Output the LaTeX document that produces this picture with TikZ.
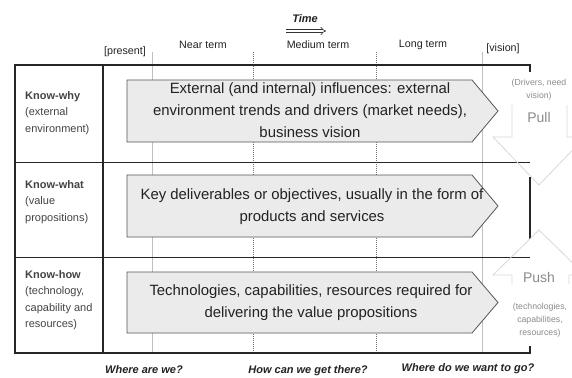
\documentclass[tikz,border=0pt]{standalone}
\usepackage{fontspec}
\setmainfont{Liberation Sans}
\usetikzlibrary{arrows.meta}
\definecolor{boxfill}{HTML}{EBEBEB}
\definecolor{boxline}{HTML}{555555}
\definecolor{ghost}{HTML}{D8D8D8}
\definecolor{ghosttext}{HTML}{8A8A8A}
\definecolor{txt}{HTML}{222222}
\begin{document}
\begin{tikzpicture}[x=1pt,y=-1pt,
  bigtext/.style={font=\fontsize{14.9}{22}\selectfont, text=txt, align=center, inner sep=0pt},
  rowlabel/.style={font=\fontsize{11}{16.5}\selectfont, text=txt!85, align=left, anchor=west, inner sep=0pt},
  toplabel/.style={font=\fontsize{10.7}{12}\selectfont, text=txt, inner sep=0pt},
  question/.style={font=\bfseries\itshape\fontsize{11}{12}\selectfont, text=txt, inner sep=0pt},
  ghostlabel/.style={text=ghosttext, align=center, inner sep=0pt},
  bigarrow/.style={draw=boxline, fill=boxfill, line width=0.8pt},
  frame/.style={line width=2.4pt, black!85},
  sep/.style={line width=0.8pt, black!85},
  vsolid/.style={line width=0.6pt, black!25},
  vdash/.style={line width=0.5pt, black!55, dash pattern=on 1pt off 1pt},
  ghostarrow/.style={draw=ghost, line width=0.8pt}
]
\useasboundingbox (0,0) rectangle (572,377);

% time guide lines
\draw[vsolid] (152,52) -- (152,353);
\draw[vdash] (253,52) -- (253,353);
\draw[vdash] (376,52) -- (376,353);
\draw[vsolid] (482,52) -- (482,353);

% frame
\draw[frame] (530,72) -- (530,65) -- (15,65) -- (15,353) -- (530,353) -- (530,346);
\draw[frame] (103,65) -- (103,353);
\draw[frame] (530,177) -- (530,239);
\draw[sep] (15,162) -- (530,162);
\draw[sep] (15,257) -- (530,257);

% top labels
\node[toplabel] (present) at (125,52) {[present]};
\node[toplabel] (near) at (203,45) {Near term};
\node[toplabel] (medium) at (318,45) {Medium term};
\node[toplabel] (long) at (423,45) {Long term};
\node[toplabel] (vision) at (503,49) {[vision]};
\node[question] (time) at (305,19) {Time};
\coordinate (ta) at (286,31);
\coordinate (tb) at (326,31);
\draw[double=white, double distance=2.2pt, line width=0.6pt, black!80, -{Implies[length=5pt]}] (ta) -- (tb);

% big arrows
\draw[bigarrow] (127,80) -- (472,80) -- (498,111) -- (472,142) -- (127,142) -- cycle;
\draw[bigarrow] (127,175) -- (472,175) -- (498,206) -- (472,237) -- (127,237) -- cycle;
\draw[bigarrow] (127,272) -- (472,272) -- (498,302.5) -- (472,333) -- (127,333) -- cycle;

\node[bigtext] (why) at (310,110) {External (and internal) influences: external\\environment trends and drivers (market needs),\\business vision};
\node[bigtext] (what) at (312,207) {Key deliverables or objectives, usually in the form of\\products and services};
\node[bigtext] (how) at (311,303) {Technologies, capabilities, resources required for\\delivering the value propositions};

% row labels
\node[rowlabel] (lwhy) at (25,113) {\textbf{Know-why}\\(external\\environment)};
\node[rowlabel] (lwhat) at (25,202) {\textbf{Know-what}\\(value\\propositions)};
\node[rowlabel] (lhow) at (25,300) {\textbf{Know-how}\\(technology,\\capability and\\resources)};

% pull arrow
\draw[ghostarrow] (512,105) -- (512,137) -- (493,137) -- (539,185) -- (585,137) -- (567,137) -- (567,105);
\node[ghostlabel, font=\fontsize{8.7}{13}\selectfont] (drivers) at (539,90) {(Drivers, need\\vision)};
\node[ghostlabel, font=\fontsize{14}{16}\selectfont] (pull) at (539,117) {Pull};

% push arrow
\draw[ghostarrow] (512,284) -- (512,275) -- (493,275) -- (539,230) -- (585,275) -- (569,275) -- (569,284);
\node[ghostlabel, font=\fontsize{14}{16}\selectfont] (push) at (539,277) {Push};
\node[ghostlabel, font=\fontsize{8.7}{13}\selectfont] (techs) at (540,320) {(technologies,\\capabilities,\\resources)};

% questions
\node[question] (q1) at (144,370) {Where are we?};
\node[question] (q2) at (308,371) {How can we get there?};
\node[question] (q3) at (468,369) {Where do we want to go?};
\end{tikzpicture}
\end{document}
